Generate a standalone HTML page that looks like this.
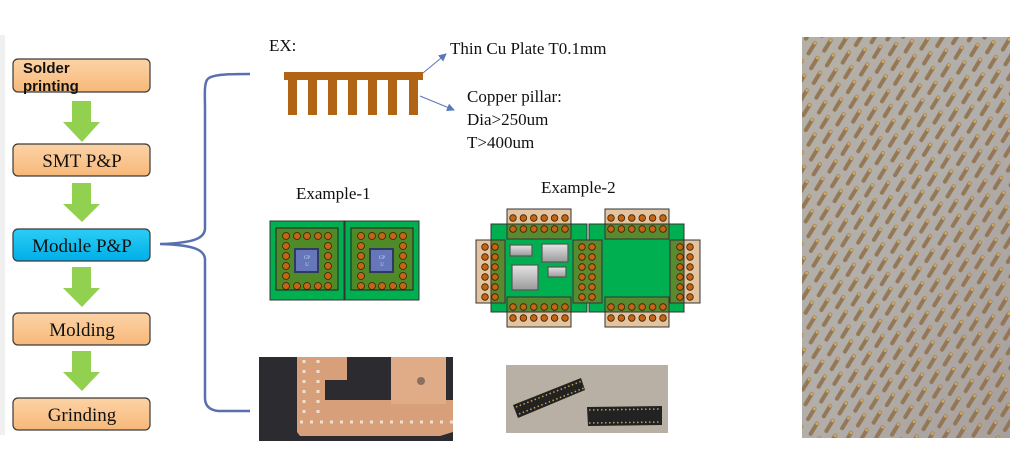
<!DOCTYPE html>
<html><head><meta charset="utf-8"><style>
html,body{margin:0;padding:0;background:#fff;}
svg{display:block;}
text{font-family:"Liberation Serif",serif;fill:#111;}
</style></head><body>
<svg width="1031" height="457" viewBox="0 0 1031 457" xmlns="http://www.w3.org/2000/svg">
<defs>
<linearGradient id="orb" x1="0" y1="0" x2="0" y2="1"><stop offset="0" stop-color="#fcd3a6"/><stop offset="1" stop-color="#f7b879"/></linearGradient>
<linearGradient id="blb" x1="0" y1="0" x2="0" y2="1"><stop offset="0" stop-color="#2ccdf5"/><stop offset="1" stop-color="#00aee8"/></linearGradient>
<linearGradient id="chip" x1="0" y1="0" x2="0" y2="1"><stop offset="0" stop-color="#e4e4e4"/><stop offset="1" stop-color="#9a9a9a"/></linearGradient>
<pattern id="pins" width="16" height="15" patternUnits="userSpaceOnUse" patternTransform="rotate(-10)">
<line x1="3" y1="13" x2="11" y2="4" stroke="#8e6e48" stroke-width="4" stroke-linecap="round"/>
<circle cx="11" cy="4" r="1.5" fill="#d8a850"/>
</pattern>
<linearGradient id="ph" x1="0" y1="0" x2="1" y2="1"><stop offset="0" stop-color="#b4b0a6"/><stop offset="0.5" stop-color="#b2aeaa"/><stop offset="1" stop-color="#a8a09c"/></linearGradient>
<marker id="ah" markerWidth="8" markerHeight="8" refX="7" refY="4" orient="auto" markerUnits="userSpaceOnUse"><path d="M0,0 L8,4 L0,8 z" fill="#5a78b8"/></marker>
<g id="hr"><circle cx="513" cy="0" r="3.3"/><circle cx="523.4" cy="0" r="3.3"/><circle cx="533.8" cy="0" r="3.3"/><circle cx="544.2" cy="0" r="3.3"/><circle cx="554.6" cy="0" r="3.3"/><circle cx="565" cy="0" r="3.3"/></g>
<g id="vc"><circle cx="0" cy="247" r="3.3"/><circle cx="0" cy="257" r="3.3"/><circle cx="0" cy="267" r="3.3"/><circle cx="0" cy="277" r="3.3"/><circle cx="0" cy="287" r="3.3"/><circle cx="0" cy="297" r="3.3"/></g>
</defs>

<rect x="0" y="35" width="5" height="400" fill="#f0f0f0"/>

<g stroke="#3a3a3a" stroke-width="1.2">
<rect x="13" y="59" width="137" height="33" rx="5" fill="url(#orb)"/>
<rect x="13" y="144" width="137" height="32" rx="5" fill="url(#orb)"/>
<rect x="13" y="229" width="137" height="32" rx="5" fill="url(#blb)"/>
<rect x="13" y="313" width="137" height="32" rx="5" fill="url(#orb)"/>
<rect x="13" y="398" width="137" height="32" rx="5" fill="url(#orb)"/>
</g>
<text x="23" y="73" style="font-family:'Liberation Sans',sans-serif;font-weight:bold;font-size:15px">Solder</text>
<text x="23" y="91" style="font-family:'Liberation Sans',sans-serif;font-weight:bold;font-size:15px">printing</text>
<text x="82" y="167" text-anchor="middle" font-size="19">SMT P&amp;P</text>
<text x="82" y="252" text-anchor="middle" font-size="19">Module P&amp;P</text>
<text x="82" y="336" text-anchor="middle" font-size="19">Molding</text>
<text x="82" y="421" text-anchor="middle" font-size="19">Grinding</text>

<g fill="#92d050">
<path d="M72,101 H91 V122 H100 L82,142 L63,122 H72 Z"/>
<path d="M72,183 H91 V204 H100 L82,222 L63,204 H72 Z"/>
<path d="M72,267 H91 V288 H100 L82,307 L63,288 H72 Z"/>
<path d="M72,351 H91 V372 H100 L82,391 L63,372 H72 Z"/>
</g>

<path d="M250,74 C230,74 210,74 207,80 C204,85 205,95 205,110 L205,228 C205,238 195,243 160,244 C195,245 205,250 205,260 L205,398 C205,406 210,410 218,411 L250,411" fill="none" stroke="#5a6fb0" stroke-width="2.5"/>

<text x="269" y="51" font-size="17">EX:</text>
<rect x="284" y="72" width="139" height="8" fill="#b06414"/>
<g fill="#b06414">
<rect x="288" y="78" width="9" height="37"/>
<rect x="308" y="78" width="9" height="37"/>
<rect x="328" y="78" width="9" height="37"/>
<rect x="348" y="78" width="9" height="37"/>
<rect x="368" y="78" width="9" height="37"/>
<rect x="388" y="78" width="9" height="37"/>
<rect x="409" y="78" width="9" height="37"/>
</g>
<line x1="423" y1="73" x2="446" y2="54" stroke="#5a78b8" stroke-width="1" marker-end="url(#ah)"/>
<line x1="420" y1="96" x2="454" y2="110" stroke="#5a78b8" stroke-width="1" marker-end="url(#ah)"/>
<text x="450" y="54" font-size="17">Thin Cu Plate T0.1mm</text>
<text x="467" y="102" font-size="17">Copper pillar:</text>
<text x="467" y="125" font-size="17">Dia&gt;250um</text>
<text x="467" y="148" font-size="17">T&gt;400um</text>

<text x="296" y="199" font-size="17">Example-1</text>
<g id="m1">
<rect x="270" y="221" width="74" height="79" fill="#00b050" stroke="#333" stroke-width="1"/>
<rect x="276" y="228" width="62" height="62" fill="#4f8a28" stroke="#222" stroke-width="1"/>
<g fill="#c46414" stroke="#3a2200" stroke-width="0.8">
<circle cx="286" cy="236" r="3.5"/><circle cx="297" cy="236" r="3.5"/><circle cx="307" cy="236" r="3.5"/><circle cx="318" cy="236" r="3.5"/><circle cx="328" cy="236" r="3.5"/>
<circle cx="286" cy="286" r="3.5"/><circle cx="297" cy="286" r="3.5"/><circle cx="307" cy="286" r="3.5"/><circle cx="318" cy="286" r="3.5"/><circle cx="328" cy="286" r="3.5"/>
<circle cx="286" cy="246" r="3.5"/><circle cx="286" cy="256" r="3.5"/><circle cx="286" cy="266" r="3.5"/><circle cx="286" cy="276" r="3.5"/>
<circle cx="328" cy="246" r="3.5"/><circle cx="328" cy="256" r="3.5"/><circle cx="328" cy="266" r="3.5"/><circle cx="328" cy="276" r="3.5"/>
</g>
<rect x="294" y="248" width="25" height="25" fill="#303a60"/>
<rect x="296" y="250" width="21" height="21" fill="#6577b8"/>
<text x="307" y="259" text-anchor="middle" font-size="5" style="fill:#cfd8ff">CP</text>
<text x="307" y="266" text-anchor="middle" font-size="5" style="fill:#cfd8ff">U</text>
</g>
<use href="#m1" x="75"/>

<text x="541" y="193" font-size="17">Example-2</text>
<rect x="491" y="224" width="96" height="88" fill="#00b050" stroke="#333" stroke-width="1"/>
<rect x="589" y="224" width="95" height="88" fill="#00b050" stroke="#333" stroke-width="1"/>
<g stroke="#333" stroke-width="1">
<rect x="507" y="209" width="64" height="15" fill="#e4c4a0"/><rect x="507" y="224" width="64" height="15" fill="#5a8a30"/>
<rect x="605" y="209" width="64" height="15" fill="#e4c4a0"/><rect x="605" y="224" width="64" height="15" fill="#5a8a30"/>
<rect x="507" y="297" width="64" height="15" fill="#5a8a30"/><rect x="507" y="312" width="64" height="15" fill="#e4c4a0"/>
<rect x="605" y="297" width="64" height="15" fill="#5a8a30"/><rect x="605" y="312" width="64" height="15" fill="#e4c4a0"/>
<rect x="476" y="240" width="15" height="63" fill="#e4c4a0"/><rect x="491" y="240" width="14" height="63" fill="#5a8a30"/>
<rect x="573" y="240" width="29" height="63" fill="#5a8a30"/>
<rect x="670" y="240" width="14" height="63" fill="#5a8a30"/><rect x="684" y="240" width="16" height="63" fill="#e4c4a0"/>
</g>
<g fill="#c46414" stroke="#3a2200" stroke-width="0.8">
<use href="#hr" y="218"/><use href="#hr" y="229"/><use href="#hr" y="307"/><use href="#hr" y="318"/>
<use href="#hr" x="98" y="218"/><use href="#hr" x="98" y="229"/><use href="#hr" x="98" y="307"/><use href="#hr" x="98" y="318"/>
<use href="#vc" x="485"/><use href="#vc" x="495"/><use href="#vc" x="582"/><use href="#vc" x="592"/><use href="#vc" x="680"/><use href="#vc" x="690"/>
</g>
<g stroke="#555" stroke-width="1.2" fill="url(#chip)">
<rect x="510" y="245" width="22" height="11"/>
<rect x="542" y="244" width="26" height="18"/>
<rect x="512" y="265" width="26" height="25"/>
<rect x="548" y="267" width="18" height="10"/>
</g>

<rect x="259" y="357" width="194" height="84" fill="#2b2b30"/>
<path d="M297,357 H347 V380 H325 V400 H453 V432 L440,436 H300 L297,432 Z" fill="#d8a07a"/>
<rect x="391" y="357" width="55" height="47" fill="#e0ac88"/>
<circle cx="421" cy="381" r="4" fill="#8a7060"/>
<g stroke="#f0e0d0" stroke-width="3" stroke-dasharray="3 7">
<line x1="300" y1="422" x2="453" y2="422"/>
<line x1="304" y1="360" x2="304" y2="420"/>
<line x1="318" y1="360" x2="318" y2="420"/>
</g>

<rect x="506" y="365" width="162" height="68" fill="#b8b0a4"/>
<polygon points="513,405 581,378 585,390 518,418" fill="#222"/>
<polygon points="587,407 662,406 662,425 588,426" fill="#222"/>
<g stroke="#c8a050" stroke-width="1.5" stroke-dasharray="1.5 2.5">
<line x1="516" y1="407" x2="582" y2="381"/><line x1="519" y1="414" x2="584" y2="388"/>
<line x1="589" y1="410" x2="661" y2="409"/><line x1="589" y1="423" x2="661" y2="422"/>
</g>

<rect x="802" y="37" width="208" height="401" fill="url(#ph)"/>
<rect x="802" y="37" width="208" height="401" fill="url(#pins)" opacity="0.85"/>
</svg>
</body></html>
